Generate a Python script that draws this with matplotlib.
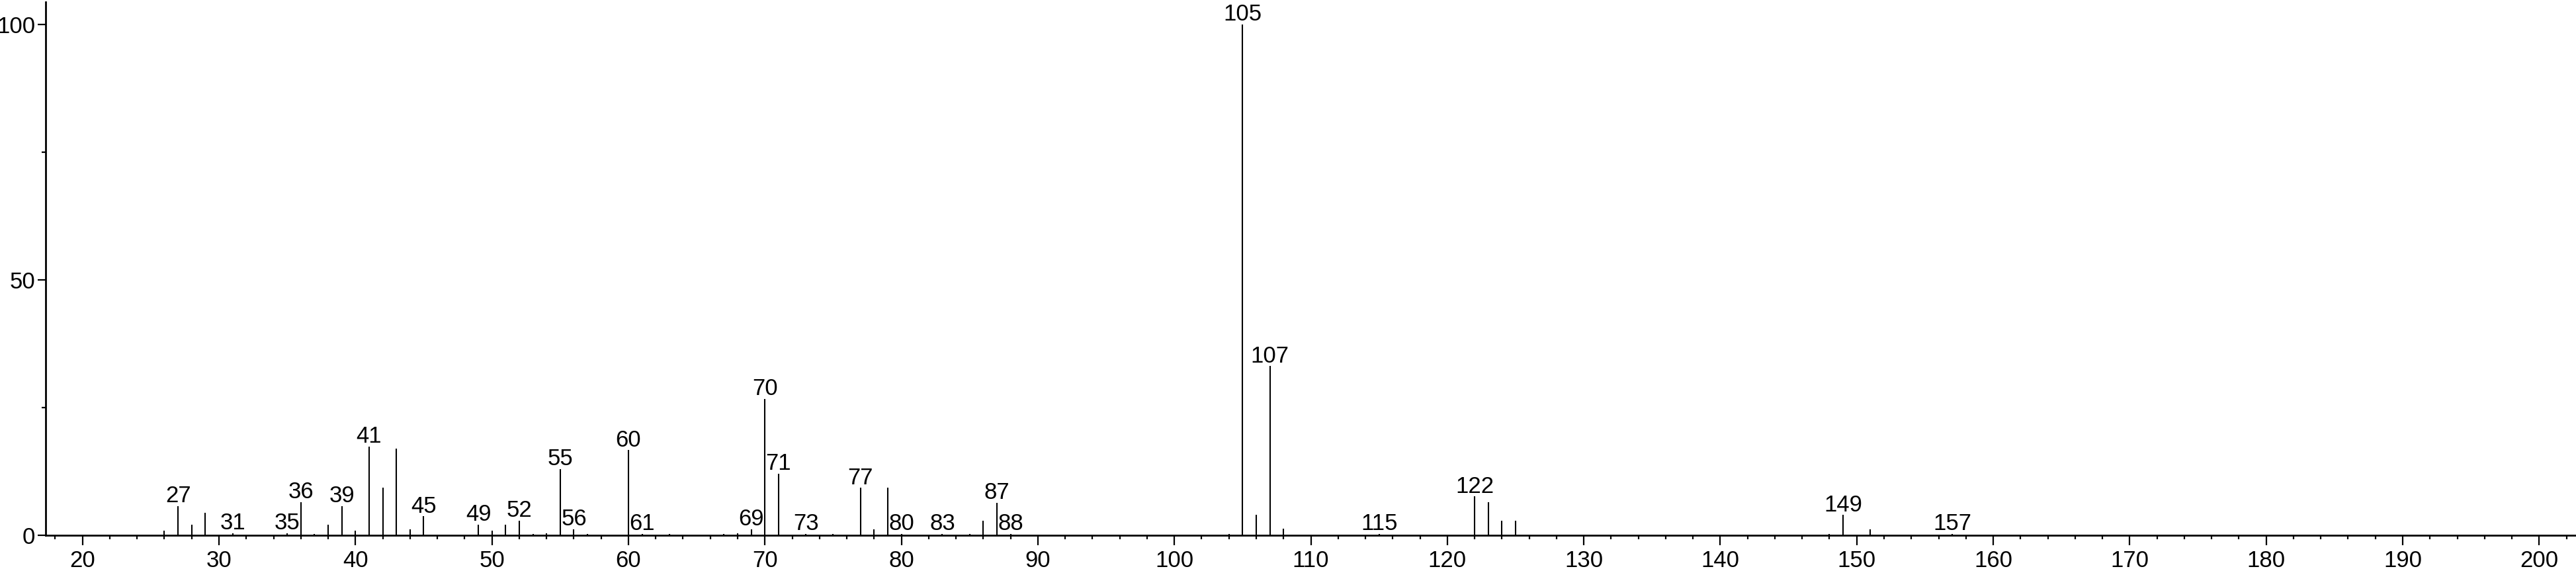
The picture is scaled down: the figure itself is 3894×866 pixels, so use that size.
import matplotlib
matplotlib.use('Agg')
import matplotlib.pyplot as plt
from matplotlib.ticker import MultipleLocator

# m/z values and relative intensities
mz = [26, 27, 28, 29, 31, 35, 36, 37, 38, 39, 40, 41, 42, 43, 44, 45,
      49, 50, 51, 52, 53, 54, 55, 56, 57, 60, 61, 63, 67, 68, 69, 70, 71,
      73, 75, 77, 78, 79, 80, 83, 85, 86, 87, 88,
      104, 105, 106, 107, 108, 115, 122, 123, 124, 125,
      148, 149, 151, 157]
intensity = [0.9, 5.7, 2.1, 4.4, 0.4, 0.4, 6.5, 0.3, 2.1, 5.7, 0.9, 17.4, 9.3, 17.0, 1.2, 3.7,
             2.1, 0.9, 2.1, 2.9, 0.3, 0.4, 13.0, 1.2, 0.3, 16.7, 0.3, 0.3, 0.3, 0.4, 1.2, 26.7, 12.1,
             0.3, 0.3, 9.3, 1.2, 9.3, 0.3, 0.3, 0.3, 2.9, 6.4, 0.3,
             0.3, 100.0, 4.0, 33.1, 1.3, 0.3, 7.6, 6.5, 2.8, 2.8,
             0.3, 4.0, 1.2, 0.3]
labeled = [27, 31, 35, 36, 39, 41, 45, 49, 52, 55, 56, 60, 61, 69, 70, 71,
           73, 77, 80, 83, 87, 88, 105, 107, 115, 122, 149, 157]

plt.rcParams['font.family'] = ['Liberation Sans', 'DejaVu Sans']

W, H = 3894, 866
fig = plt.figure(figsize=(W / 100, H / 100), dpi=100)
ax = fig.add_axes([69 / W, 57 / H, 1 - 69 / W, (809 - 3) / H])

ax.vlines(mz, 0, intensity, color='black', lw=1.5)

heights = dict(zip(mz, intensity))
for m in labeled:
    ax.annotate(str(m), (m, heights[m]), xytext=(0, 4), textcoords='offset points',
                ha='center', va='baseline', fontsize=25)

ax.set_xlim(17.3, 202.7)
ax.set_ylim(0, 104.4)
ax.spines['top'].set_visible(False)
ax.spines['right'].set_visible(False)
ax.spines['left'].set_linewidth(2)
ax.spines['bottom'].set_linewidth(2)

ax.xaxis.set_major_locator(MultipleLocator(10))
ax.xaxis.set_minor_locator(MultipleLocator(2))
ax.yaxis.set_major_locator(MultipleLocator(50))
ax.yaxis.set_minor_locator(MultipleLocator(25))
ax.tick_params(axis='x', which='major', length=11, width=1.6, labelsize=25, pad=5)
ax.tick_params(axis='x', which='minor', length=4.5, width=1.6)
ax.tick_params(axis='y', which='major', length=8.5, width=1.6, labelsize=25, pad=3)
ax.tick_params(axis='y', which='minor', length=4, width=1.6)

fig.savefig('out.png', dpi=100)
